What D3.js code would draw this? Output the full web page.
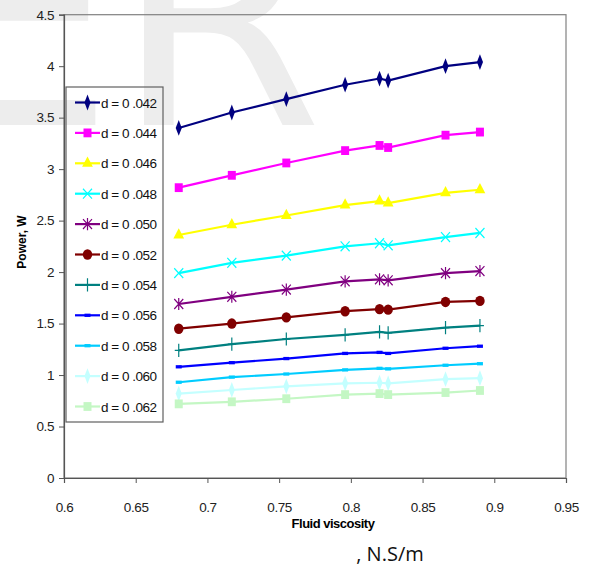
<!DOCTYPE html>
<html>
<head>
<meta charset="utf-8">
<title>Power vs fluid viscosity</title>
<script src="https://cdn.jsdelivr.net/npm/d3@7"></script>
<style>
  body { margin: 0; background: #fff; }
  svg { display: block; }
  .tick text { font-family: "Liberation Sans", Arial, sans-serif; font-size: 13.5px; letter-spacing: -0.4px; fill: #222; }
</style>
</head>
<body>
<script>
// data
var viscosity = [0.68, 0.717, 0.755, 0.796, 0.82, 0.826, 0.866, 0.89];
var diameters = ["0.042", "0.044", "0.046", "0.048", "0.050", "0.052", "0.054", "0.056", "0.058", "0.060", "0.062"];
var p042 = [3.40, 3.55, 3.68, 3.82, 3.88, 3.86, 4.00, 4.04];
var p044 = [2.82, 2.94, 3.06, 3.18, 3.23, 3.21, 3.33, 3.36];
var p046 = [2.36, 2.46, 2.55, 2.65, 2.69, 2.67, 2.77, 2.80];
var p048 = [1.99, 2.09, 2.16, 2.25, 2.28, 2.26, 2.34, 2.38];
var p050 = [1.69, 1.76, 1.83, 1.91, 1.93, 1.92, 1.99, 2.01];
var p052 = [1.45, 1.50, 1.56, 1.62, 1.64, 1.635, 1.71, 1.72];
var p054 = [1.24, 1.30, 1.35, 1.39, 1.42, 1.41, 1.46, 1.48];
var p056 = [1.08, 1.12, 1.16, 1.21, 1.22, 1.21, 1.26, 1.28];
var p058 = [0.93, 0.98, 1.01, 1.05, 1.065, 1.06, 1.095, 1.11];
var p060 = [0.82, 0.855, 0.89, 0.92, 0.925, 0.92, 0.96, 0.97];
var p062 = [0.72, 0.74, 0.77, 0.81, 0.82, 0.81, 0.83, 0.85];
var xTicks = [0.6, 0.65, 0.7, 0.75, 0.8, 0.85, 0.9, 0.95];
var yTicks = [0, 0.5, 1, 1.5, 2, 2.5, 3, 3.5, 4, 4.5];

var seriesValues = [p042, p044, p046, p048, p050, p052, p054, p056, p058, p060, p062];
var colors = ["#000080", "#ff00ff", "#ffff00", "#00ffff", "#800080", "#800000",
              "#008080", "#0000ff", "#00ccff", "#c4ffff", "#c4f7c4"];
var markers = ["diamond", "square", "triangle", "x", "star", "circle",
               "plus", "dash", "dash", "diamond", "square"];

var width = 593, height = 568;
var plotLeft = 64, plotRight = 566, plotTop = 14.7, plotBottom = 478;

var svg = d3.select("body").append("svg")
    .attr("width", width)
    .attr("height", height);

// faint watermark behind the chart
svg.append("text")
    .attr("x", -75)
    .attr("y", 125)
    .attr("font-family", "DejaVu Sans, sans-serif")
    .attr("font-size", 300)
    .attr("fill", "#ededed")
    .text("ER");

var x = d3.scaleLinear().domain([0.6, 0.95]).range([plotLeft, plotRight]);
var y = d3.scaleLinear().domain([0, 4.5]).range([plotBottom, plotTop]);

// plot frame
svg.append("rect")
    .attr("x", plotLeft).attr("y", plotTop)
    .attr("width", plotRight - plotLeft).attr("height", plotBottom - plotTop)
    .attr("fill", "none")
    .attr("stroke", "#808080")
    .attr("stroke-width", 1.2);

var xAxis = svg.append("g")
    .attr("transform", "translate(0," + plotBottom + ")")
    .call(d3.axisBottom(x).tickValues(xTicks).tickFormat(function(d) { return String(d); })
      .tickSize(5).tickPadding(19));
var yAxis = svg.append("g")
    .attr("transform", "translate(" + plotLeft + ",0)")
    .call(d3.axisLeft(y).tickValues(yTicks).tickFormat(function(d) { return String(d); })
      .tickSize(5).tickPadding(5));
[xAxis, yAxis].forEach(function(g) {
  g.select(".domain").attr("stroke", "#555").attr("stroke-width", 1.2);
  g.selectAll(".tick line").attr("stroke", "#555");
});

// marker shapes
function markerPath(type, color) {
  var sym = {
    diamond: d3.symbol().type(d3.symbolDiamond).size(32),
    square: d3.symbol().type(d3.symbolSquare).size(64),
    triangle: d3.symbol().type(d3.symbolTriangle).size(50),
    circle: d3.symbol().type(d3.symbolCircle).size(70)
  };
  if (sym[type]) return { d: sym[type](), fill: color, stroke: "none" };
  if (type === "x") return { d: "M-4.5,-4.5L4.5,4.5M-4.5,4.5L4.5,-4.5", fill: "none", stroke: color };
  if (type === "star") return { d: "M-4.5,-4.5L4.5,4.5M-4.5,4.5L4.5,-4.5M0,-5.5L0,5.5", fill: "none", stroke: color };
  if (type === "plus") return { d: "M0,-6L0,6M-4,0L4,0", fill: "none", stroke: color };
  return { d: "M-3,-1.5L3,-1.5L3,1.5L-3,1.5Z", fill: color, stroke: "none" };
}

function drawMarker(g, type, color, scaleY) {
  var m = markerPath(type, color);
  g.append("path")
    .attr("d", m.d)
    .attr("fill", m.fill)
    .attr("stroke", m.stroke)
    .attr("stroke-width", 1.2)
    .attr("transform", "scale(1," + (scaleY || 1) + ")");
}

var line = d3.line()
    .x(function(d) { return x(d[0]); })
    .y(function(d) { return y(d[1]); });

seriesValues.forEach(function(vals, i) {
  var pts = vals.map(function(v, j) { return [viscosity[j], v]; });
  svg.append("path")
    .datum(pts)
    .attr("d", line)
    .attr("fill", "none")
    .attr("stroke", colors[i])
    .attr("stroke-width", 2.2);
  pts.forEach(function(p) {
    var g = svg.append("g").attr("transform", "translate(" + x(p[0]) + "," + y(p[1]) + ")");
    drawMarker(g, markers[i], colors[i], markers[i] === "diamond" ? 1.5 : 1.1);
  });
});

// legend
var legend = svg.append("g");
legend.append("rect")
    .attr("x", 66).attr("y", 87)
    .attr("width", 97).attr("height", 335)
    .attr("fill", "none")
    .attr("stroke", "#606060")
    .attr("stroke-width", 1.2);
diameters.forEach(function(dia, i) {
  var ly = 102.5 + i * 30.4;
  var row = legend.append("g");
  row.append("line")
    .attr("x1", 75).attr("x2", 100)
    .attr("y1", ly).attr("y2", ly)
    .attr("stroke", colors[i])
    .attr("stroke-width", 2.2);
  var g = row.append("g").attr("transform", "translate(87.5," + ly + ")");
  drawMarker(g, markers[i], colors[i], markers[i] === "diamond" ? 1.5 : 1.1);
  row.append("text")
    .attr("x", 101)
    .attr("y", ly + 5)
    .attr("font-family", "Liberation Sans, Arial, sans-serif")
    .attr("font-size", 13.5)
    .attr("letter-spacing", -0.5)
    .attr("fill", "#111")
    .text("d = 0 ." + dia.slice(2));
});

// axis titles
svg.append("text")
    .attr("transform", "translate(26,242) rotate(-90)")
    .attr("text-anchor", "middle")
    .attr("font-family", "Liberation Sans, Arial, sans-serif")
    .attr("font-weight", "bold")
    .attr("font-size", 12)
    .text("Power, W");

svg.append("text")
    .attr("x", 333).attr("y", 528)
    .attr("text-anchor", "middle")
    .attr("font-family", "Liberation Sans, Arial, sans-serif")
    .attr("font-weight", "bold")
    .attr("font-size", 13)
    .attr("letter-spacing", -0.5)
    .text("Fluid viscosity");

svg.append("text")
    .attr("x", 390).attr("y", 561)
    .attr("text-anchor", "middle")
    .attr("font-family", "Open Sans, DejaVu Sans, sans-serif")
    .attr("font-size", 20)
    .attr("fill", "#111")
    .text(", N.S/m");
</script>
</body>
</html>
